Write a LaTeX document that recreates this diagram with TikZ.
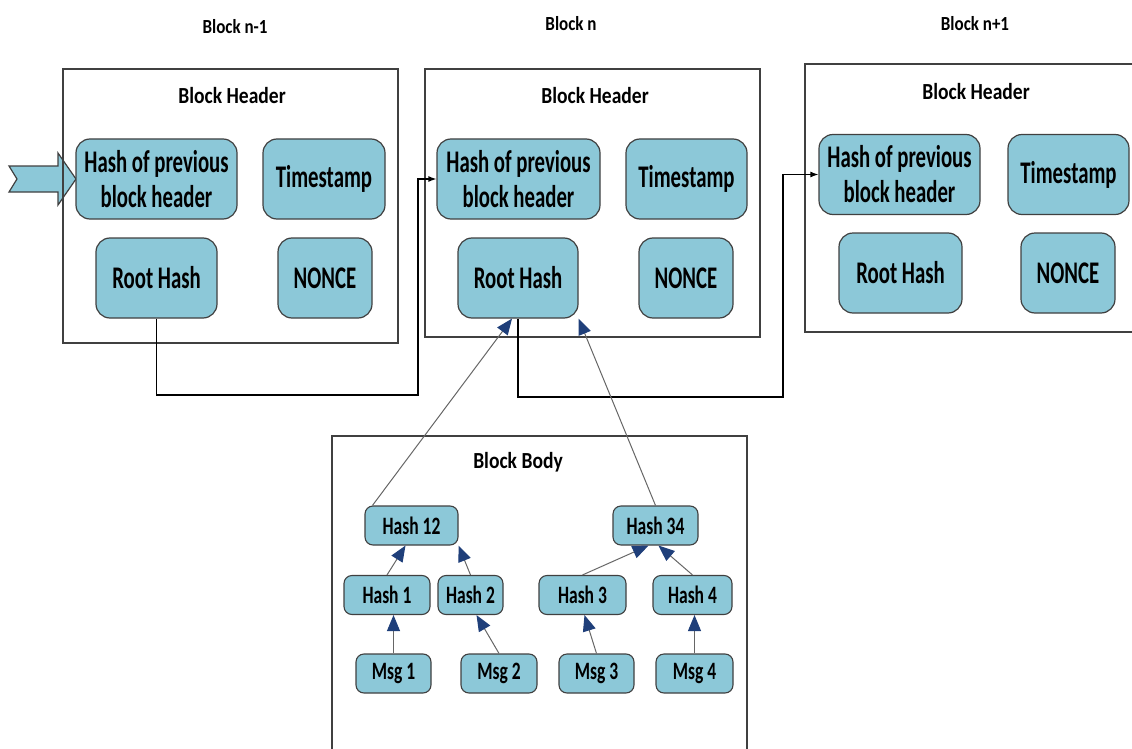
\documentclass[tikz,border=0pt]{standalone}
\usepackage{fontspec}
\newfontfamily\boxfont[FakeStretch=0.66]{Carlito}
\newfontfamily\leaffont[FakeStretch=0.7]{Carlito}
\newfontfamily\hdrfont[FakeStretch=0.85]{Carlito}
\usetikzlibrary{arrows.meta}
\definecolor{cellblue}{RGB}{140,200,216}
\definecolor{tipblue}{RGB}{31,63,122}
\definecolor{edgegray}{RGB}{64,64,64}

\begin{document}
\begin{tikzpicture}[x=1pt, y=-1pt,
    blockbox/.style={draw=edgegray, line width=1.4pt, inner sep=0pt},
    cell/.style={draw=edgegray, line width=1.2pt, fill=cellblue, rounded corners=14pt, inner sep=0pt, minimum height=80pt, align=center, font=\boxfont\bfseries\fontsize{31.5}{35}\selectfont},
    leaf/.style={draw=edgegray, line width=1.1pt, fill=cellblue, rounded corners=8pt, inner sep=0pt, minimum height=39pt, font=\leaffont\bfseries\fontsize{25}{28}\selectfont},
    blocktitle/.style={font=\hdrfont\bfseries\fontsize{23}{27}\selectfont, inner sep=0pt},
    blocklabel/.style={font=\hdrfont\bfseries\fontsize{20}{24}\selectfont, inner sep=0pt},
    link/.style={line width=1.3pt, -{Latex[length=8pt,width=6pt]}},
    tree/.style={draw=gray!80!black, line width=1pt, -{Triangle[length=16pt,width=13pt,color=tipblue]}}]
  \useasboundingbox (0,0) rectangle (1132,749);

  % incoming chain arrow
  \draw[draw=edgegray, line width=1.2pt, fill=cellblue] (9,166) -- (58,166) -- (58,153) -- (76,179) -- (58,205) -- (58,192) -- (9,192) -- (17,179) -- cycle;

  % blocks
  \node[blockbox, minimum width=335pt, minimum height=274pt] (boxA) at (230.5,206) {};
  \node[blockbox, minimum width=335pt, minimum height=268pt] (boxB) at (592.5,203) {};
  \node[blockbox, minimum width=335pt, minimum height=268pt] (boxC) at (972.5,198) {};
  \node[blockbox, minimum width=415pt, minimum height=324pt] (body) at (539.5,598) {};

  \node[blocklabel] (lblA) at (235,27) {Block n-1};
  \node[blocklabel] (lblB) at (571,24) {Block n};
  \node[blocklabel] (lblC) at (975,24) {Block n+1};

  \node[blocktitle] (hdrA) at (232,96) {Block Header};
  \node[blocktitle] (hdrB) at (595,96) {Block Header};
  \node[blocktitle] (hdrC) at (976,92) {Block Header};
  \node[blocktitle] (bodyT) at (518,462) {Block Body};

  % header fields
  \node[cell, minimum width=161pt] (prevA) at (156.5,179) {Hash of previous\\block header};
  \node[cell, minimum width=122pt] (timeA) at (324,179) {Timestamp};
  \node[cell, minimum width=121pt] (rootA) at (156.5,278) {Root Hash};
  \node[cell, minimum width=94pt] (nonceA) at (325,278) {NONCE};

  \node[cell, minimum width=163pt] (prevB) at (518.5,179) {Hash of previous\\block header};
  \node[cell, minimum width=121pt] (timeB) at (686.5,179) {Timestamp};
  \node[cell, minimum width=120pt] (rootB) at (518,278) {Root Hash};
  \node[cell, minimum width=94pt] (nonceB) at (686,278) {NONCE};

  \node[cell, minimum width=161pt] (prevC) at (899.5,174.5) {Hash of previous\\block header};
  \node[cell, minimum width=121pt] (timeC) at (1068.5,174.5) {Timestamp};
  \node[cell, minimum width=123pt] (rootC) at (900.5,273) {Root Hash};
  \node[cell, minimum width=94pt] (nonceC) at (1068,273) {NONCE};

  % merkle tree
  \node[leaf, minimum width=93pt] (hash12) at (411.5,525.5) {Hash 12};
  \node[leaf, minimum width=85pt] (hash34) at (655.5,525.5) {Hash 34};
  \node[leaf, minimum width=86pt] (hash1) at (387,595) {Hash 1};
  \node[leaf, minimum width=65pt] (hash2) at (470.5,595) {Hash 2};
  \node[leaf, minimum width=87pt] (hash3) at (582.5,595) {Hash 3};
  \node[leaf, minimum width=79pt] (hash4) at (692.5,595) {Hash 4};
  \node[leaf, minimum width=75pt] (msg1) at (393.5,673.5) {Msg 1};
  \node[leaf, minimum width=76pt] (msg2) at (499,673.5) {Msg 2};
  \node[leaf, minimum width=75pt] (msg3) at (596.5,673.5) {Msg 3};
  \node[leaf, minimum width=77pt] (msg4) at (694.5,673.5) {Msg 4};

  % chain links
  \coordinate (jA) at (418,395);
  \coordinate (jB) at (783,397);
  \draw[link] (rootA.south) |- (jA) |- (prevB.west);
  \draw[link] (rootB.south) |- (jB) |- (prevC.west);

  % tree edges
  \draw[tree] (msg1.north) -- (msg1.north |- hash1.south);
  \draw[tree] (msg2.north) -- ([xshift=6pt]hash2.south);
  \draw[tree] (msg3.north) -- ([xshift=2pt]hash3.south);
  \draw[tree] (msg4.north) -- (msg4.north |- hash4.south);
  \draw[tree] (hash1.north) -- ([xshift=-6pt]hash12.south);
  \draw[tree] (hash2.north) -- (hash12.south east);
  \draw[tree] (hash3.north) -- ([xshift=-7pt]hash34.south);
  \draw[tree] (hash4.north) -- ([xshift=3pt]hash34.south);
  \draw[tree] ([xshift=8pt]hash12.north west) -- ([xshift=-6pt]rootB.south);
  \draw[tree] (hash34.north) -- (rootB.south east);
\end{tikzpicture}
\end{document}
